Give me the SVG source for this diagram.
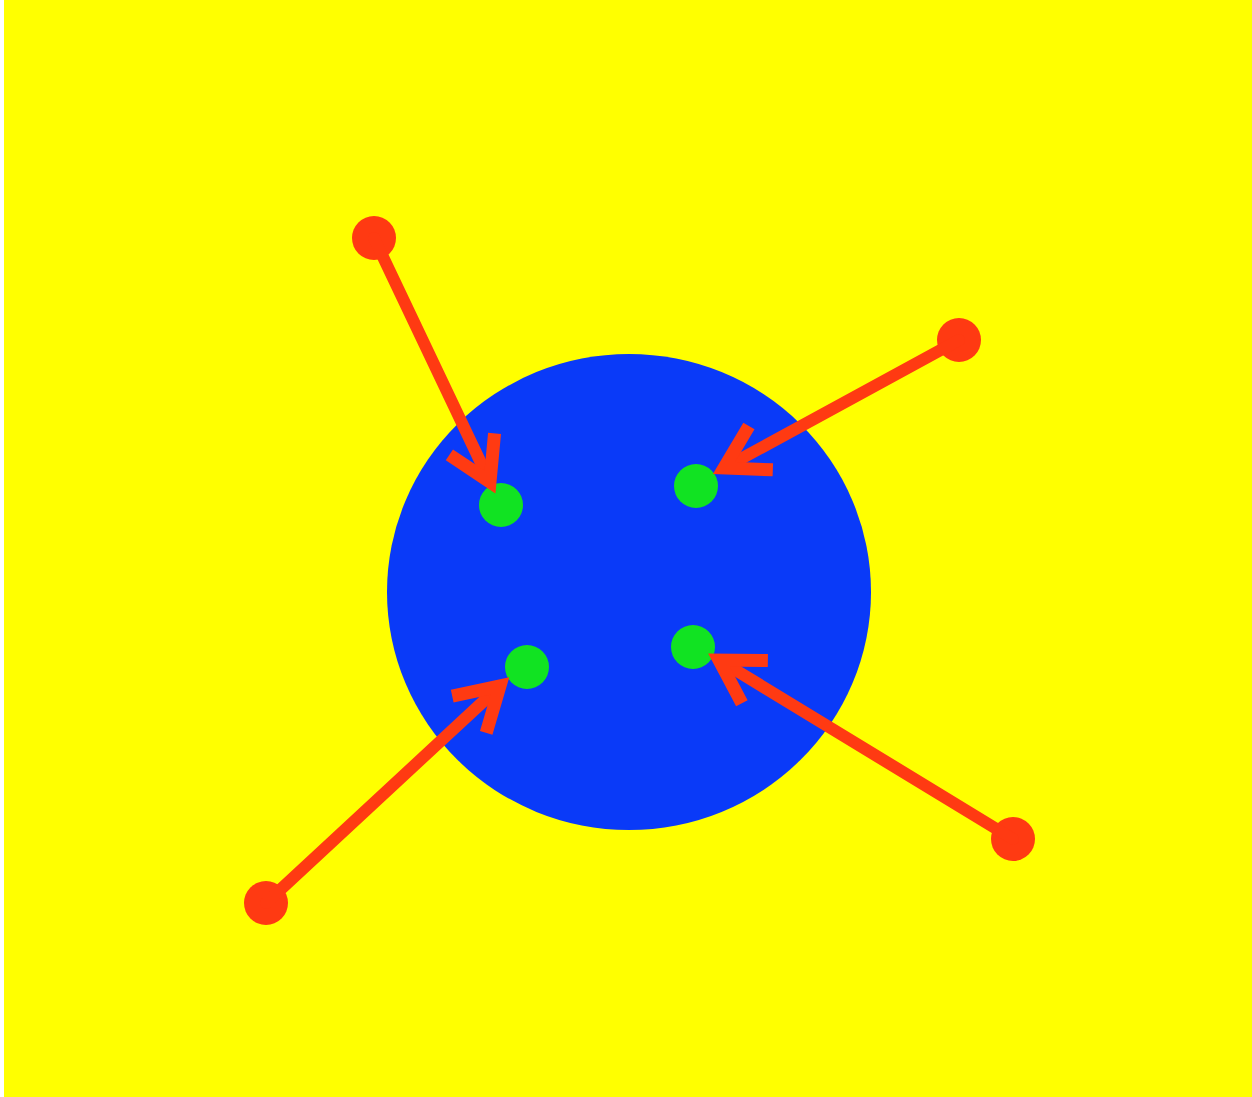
<svg xmlns="http://www.w3.org/2000/svg" width="1252" height="1097" viewBox="0 0 1252 1097">
<defs>
<style>
.dot{fill:#11e322}
.src{fill:#ff3a12}
.ln{stroke:#ff3a12;stroke-width:12;fill:none;stroke-linecap:round}
</style>
<marker id="ah" markerUnits="userSpaceOnUse" markerWidth="60" markerHeight="60" viewBox="-50 -30 60 60" refX="0" refY="0" orient="auto" overflow="visible">
<path d="M-42 -25 L0 0 L-42 25" fill="none" stroke="#ff3a12" stroke-width="13" stroke-linejoin="miter" stroke-linecap="butt"/>
</marker>
</defs>
<rect x="0" y="0" width="1252" height="1097" fill="#ffffff"/>
<rect x="4" y="0" width="1248" height="1097" fill="#ffff00"/>
<g id="body"><ellipse cx="629" cy="592" rx="242" ry="238" fill="#0a3af8"/></g>
<g id="t1"><circle class="dot" cx="501" cy="505" r="22"/></g>
<g id="t2"><circle class="dot" cx="696" cy="486" r="22"/></g>
<g id="t3"><circle class="dot" cx="527" cy="667" r="22"/></g>
<g id="t4"><circle class="dot" cx="693" cy="647" r="22"/></g>
<g id="s1"><circle class="src" cx="374" cy="238" r="22"/></g>
<g id="s2"><circle class="src" cx="959" cy="340" r="22"/></g>
<g id="s3"><circle class="src" cx="266" cy="903" r="22"/></g>
<g id="s4"><circle class="src" cx="1013" cy="839" r="22"/></g>
<g id="connectors">
<line class="ln" x1="374" y1="238" x2="490" y2="482" marker-end="url(#ah)"/>
<line class="ln" x1="959" y1="340" x2="724" y2="468" marker-end="url(#ah)"/>
<line class="ln" x1="266" y1="903" x2="500" y2="686" marker-end="url(#ah)"/>
<line class="ln" x1="1013" y1="839" x2="719" y2="660" marker-end="url(#ah)"/>
</g>
</svg>
